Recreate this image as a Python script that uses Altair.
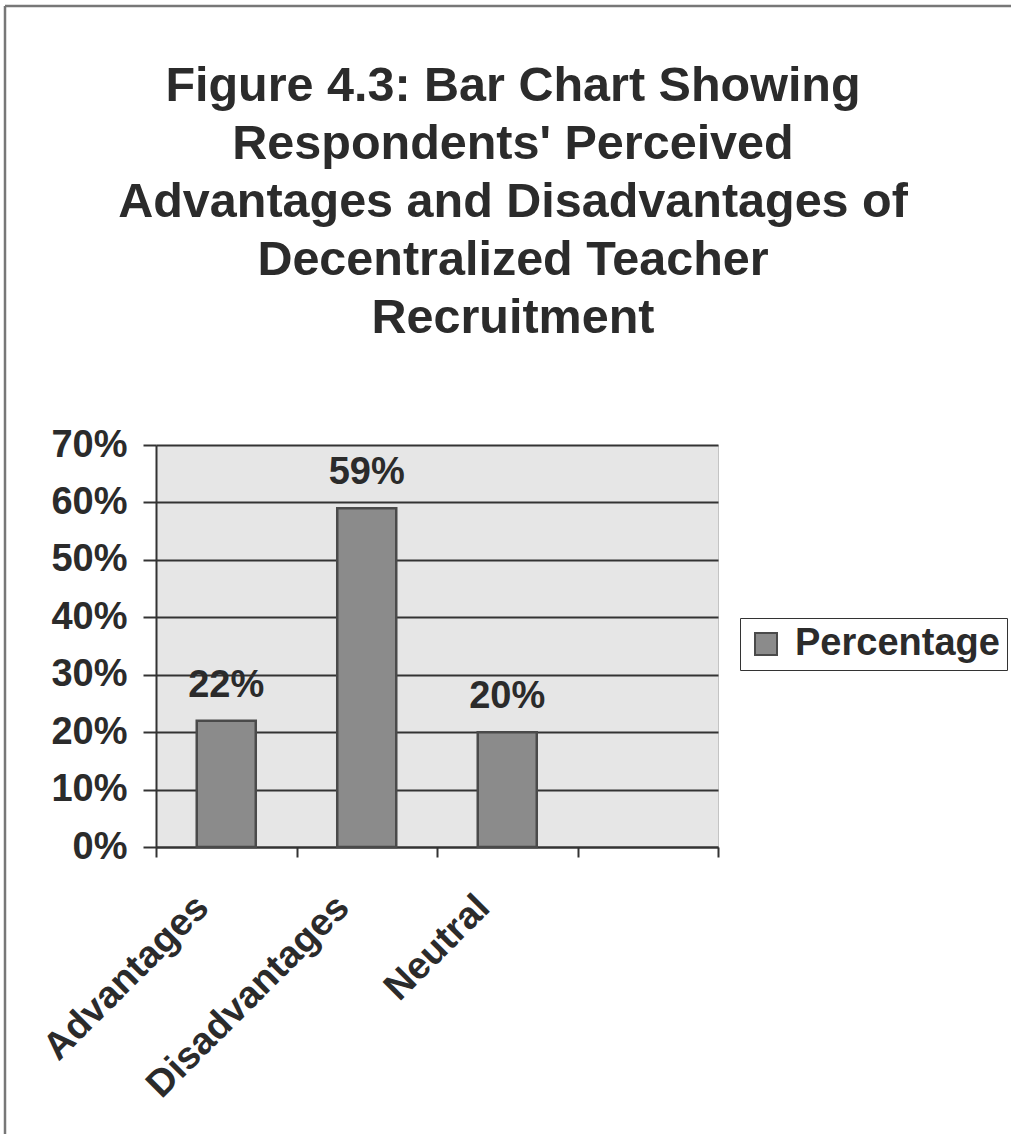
import altair as alt
import pandas as pd

# Chart values
categories = ["Advantages", "Disadvantages", "Neutral"]
percentages = [0.22, 0.59, 0.20]
series_name = "Percentage"
y_ticks = [0, 0.1, 0.2, 0.3, 0.4, 0.5, 0.6, 0.7]
title_lines = [
    "Figure 4.3: Bar Chart Showing",
    "Respondents' Perceived",
    "Advantages and Disadvantages of",
    "Decentralized Teacher",
    "Recruitment",
]

FONT = "Liberation Sans"
INK = "#2b2b2b"
LINE = "#333333"
BAR_FILL = "#8b8b8b"
BAR_EDGE = "#4a4a4a"

# the category axis keeps one empty slot after the last category
slots = len(categories) + 1

df = pd.DataFrame({
    "category": categories,
    "value": percentages,
    "slot": list(range(len(categories))),
    "series": series_name,
})

x_scale = alt.Scale(domain=[0, slots], nice=False, zero=False)
y_scale = alt.Scale(domain=[0, 0.7], nice=False)

names = ",".join("'" + c.replace("'", "\\'") + "'" for c in categories)
label_expr = f"datum.value < {len(categories)} ? [{names}][datum.value] : ''"

x_axis = alt.Axis(
    values=list(range(slots + 1)),
    labelExpr=label_expr,
    title=None,
    grid=False,
    tickSize=10,
    tickWidth=2,
    tickColor=LINE,
    domainColor=LINE,
    domainWidth=2,
    labelAngle=-45,
    labelAlign="right",
    labelBaseline="top",
    labelFont=FONT,
    labelFontSize=38,
    labelFontWeight="bold",
    labelColor=INK,
    labelPadding=31,
    labelOffset=33,
    labelOverlap=False,
    labelBound=False,
    labelFlush=False,
    labelLimit=0,
)

y_axis = alt.Axis(
    values=y_ticks,
    format=".0%",
    title=None,
    grid=True,
    gridColor=LINE,
    gridWidth=2,
    tickSize=13,
    tickWidth=2,
    tickColor=LINE,
    domainColor=LINE,
    domainWidth=2,
    labelFont=FONT,
    labelFontSize=38,
    labelFontWeight="bold",
    labelColor=INK,
    labelPadding=16,
    labelBaseline="middle",
)

legend = alt.Legend(
    title=None,
    orient="none",
    legendX=584,
    legendY=173,
    strokeColor=LINE,
    fillColor="white",
    padding=7,
    symbolType="square",
    symbolSize=484,
    symbolStrokeColor=BAR_EDGE,
    symbolStrokeWidth=2,
    labelFont=FONT,
    labelFontSize=38,
    labelFontWeight="bold",
    labelColor=INK,
    labelOffset=10,
    labelLimit=0,
)

base = alt.Chart(df).transform_calculate(
    x0="datum.slot + 0.29",
    x1="datum.slot + 0.71",
    xc="datum.slot + 0.5",
)

bars = base.mark_bar(stroke=BAR_EDGE, strokeWidth=2.5).encode(
    x=alt.X("x0:Q", scale=x_scale, axis=x_axis),
    x2="x1:Q",
    y=alt.Y("value:Q", scale=y_scale, axis=y_axis),
    y2=alt.datum(0),
    color=alt.Color("series:N", scale=alt.Scale(range=[BAR_FILL]), legend=legend),
)

value_labels = base.mark_text(
    font=FONT, fontSize=38, fontWeight="bold", color=INK,
    baseline="alphabetic", dy=-24,
).encode(
    x=alt.X("xc:Q", scale=x_scale),
    y=alt.Y("value:Q", scale=y_scale),
    text=alt.Text("value:Q", format=".0%"),
)

# page frame around the figure
frame_src = alt.Chart(pd.DataFrame({"k": [0]}))
frame_left = frame_src.mark_rule(color="#777777", strokeWidth=2.5).encode(
    x=alt.value(-151), y=alt.value(-439), y2=alt.value(700)
)
frame_top = frame_src.mark_rule(color="#777777", strokeWidth=2.5).encode(
    x=alt.value(-151), x2=alt.value(860), y=alt.value(-439)
)

chart = alt.layer(bars, value_labels, frame_left, frame_top).properties(
    width=562,
    height=402,
    autosize=alt.AutoSizeParams(type="none"),
    padding={"left": 156, "top": 445, "right": 293, "bottom": 287},
    background="white",
    title=alt.TitleParams(
        text=title_lines,
        font=FONT,
        fontSize=48.5,
        fontWeight="bold",
        color=INK,
        anchor="middle",
        frame="group",
        baseline="bottom",
        dx=76,
        # the frame lines widen the group bounds up to the page edge,
        # so the title is pulled back down towards the plot
        offset=-387,
        lineHeight=58,
    ),
).configure_view(fill="#e6e6e6", stroke="#c4c4c4", strokeWidth=1)

chart.save("out.html", embed_options={"renderer": "svg", "actions": False})
